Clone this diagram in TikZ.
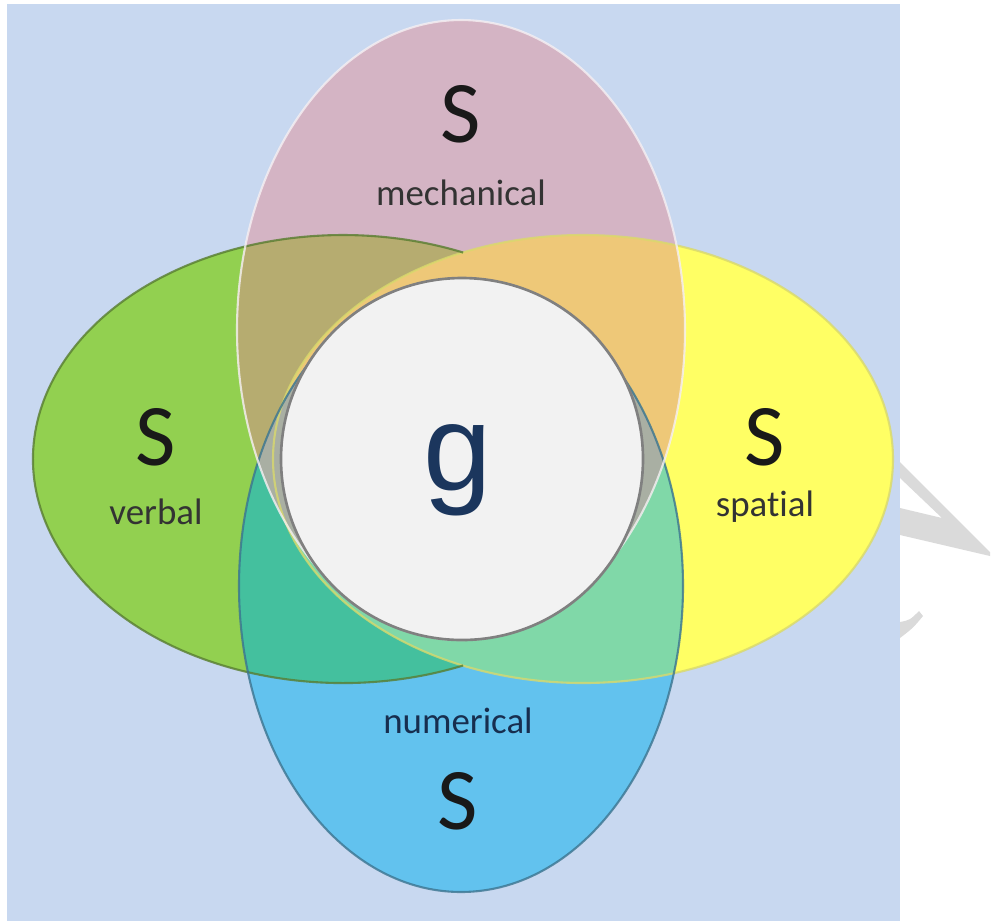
\documentclass[tikz,border=0pt]{standalone}
\usepackage{fontspec}
\setmainfont{Carlito}[Ligatures=NoCommon]
\newfontfamily\gfont{Liberation Sans}
\usetikzlibrary{positioning}
\definecolor{bgblue}{HTML}{C8D8F0}
\definecolor{mechpink}{HTML}{D4B4C4}
\definecolor{verbgreen}{HTML}{92D050}
\definecolor{spatyellow}{HTML}{FFFF64}
\definecolor{numblue}{HTML}{62C2EE}
\definecolor{olivemix}{RGB}{182,172,112}
\definecolor{orangemix}{HTML}{EEC878}
\definecolor{tealmix}{HTML}{44C09E}
\definecolor{mintmix}{HTML}{80D8A8}
\definecolor{lensgray}{HTML}{A9AFA3}
\definecolor{gwhite}{HTML}{F2F2F2}
\definecolor{gnavy}{HTML}{1B365D}
\definecolor{wmgray}{HTML}{DADADA}
\tikzset{
	bigS/.style={font=\fontsize{50}{60}\selectfont, text=black!90, inner sep=0pt}
}
\tikzset{
	kindtext/.style={font=\fontsize{21}{25}\selectfont, text=black!80, inner sep=0pt, anchor=base}
}
\tikzset{
	rim/.style={line width=1.2pt, draw opacity=0.8}
}

\begin{document}
\begin{tikzpicture}[x=0.02cm, y=-0.02cm]

			\useasboundingbox (0,0) rectangle (991,921);

			\begin{scope}
				\fill[wmgray] (900,462) -- (990,552) -- (990,556) -- (900,535) -- (900,508) -- (942,518) -- (900,478) -- cycle;
				\fill[wmgray] (900,622) .. controls (910,620) .. (919,611) -- (923,616) .. controls (913,628) .. (900,638) -- cycle;
				\fill[bgblue] (7,4) rectangle (900,921);
			\end{scope}

			\coordinate (cMech) at (461,330);
			\coordinate (cVerb) at (343,459);
			\coordinate (cSpat) at (583,459);
			\coordinate (cNum) at (461,586);
			\coordinate (cG) at (462,459);

			\begin{scope}
				\fill[verbgreen] (cVerb) ellipse [x radius=310, y radius=224];
				\fill[spatyellow] (cSpat) ellipse [x radius=310, y radius=224];
				\fill[mechpink] (cMech) ellipse [x radius=224, y radius=310];
				\fill[numblue] (cNum) ellipse [x radius=222, y radius=306];
			\end{scope}

			\begin{scope}
				\clip (cMech) ellipse [x radius=224, y radius=310];
				\fill[olivemix] (cVerb) ellipse [x radius=310, y radius=224];
				\fill[orangemix] (cSpat) ellipse [x radius=310, y radius=224];
			\end{scope}

			\begin{scope}
				\clip (cNum) ellipse [x radius=222, y radius=306];
				\fill[tealmix] (cVerb) ellipse [x radius=310, y radius=224];
				\fill[mintmix] (cSpat) ellipse [x radius=310, y radius=224];
			\end{scope}

			\begin{scope}
				\clip (cMech) ellipse [x radius=224, y radius=310];
				\fill[lensgray] (cNum) ellipse [x radius=222, y radius=306];
			\end{scope}

			\begin{scope}
				\draw[rim, spatyellow!70!gray] (cSpat) ellipse [x radius=310, y radius=224];
				\draw[rim, verbgreen!60!black] (cVerb) ++(67.2:310 and 224) arc [start angle=67.2, end angle=292.8, x radius=310, y radius=224];
				\draw[rim, numblue!60!black] (cNum) ellipse [x radius=222, y radius=306];
				\draw[rim, white!80!mechpink] (cMech) ellipse [x radius=224, y radius=310];
				\filldraw[line width=1.5pt, fill=gwhite, draw=gray] (cG) circle [radius=181];
			\end{scope}

			\node[bigS] (sMech) at (461,114) {S};
			\node[kindtext] (lMech) at (461,205) {mechanical};
			\node[bigS] (sVerb) at (156,437) {S};
			\node[kindtext] (lVerb) at (156,524) {verbal};
			\node[bigS] (sSpat) at (765,437) {S};
			\node[kindtext] (lSpat) at (765,516) {spatial};
			\node[kindtext, text=gnavy!85!black] (lNum) at (458,733) {numerical};
			\node[bigS] (sNum) at (458,801) {S};
			\node[font=\gfont\fontsize{70}{84}\selectfont, text=gnavy, inner sep=0pt] (gen) at (458,470) {g};

		\end{tikzpicture}
\end{document}
